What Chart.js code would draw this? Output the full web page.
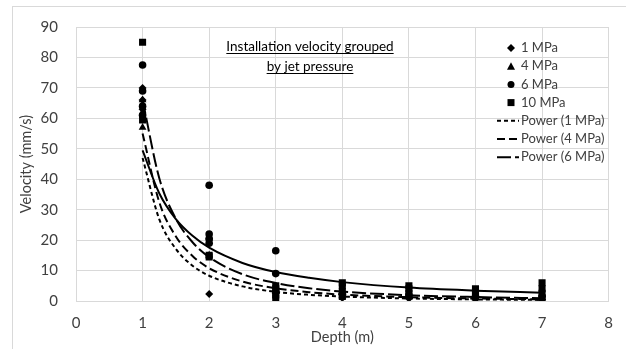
<!DOCTYPE html>
<html>
<head>
<meta charset="utf-8">
<script src="https://cdn.jsdelivr.net/npm/chart.js@4/dist/chart.umd.min.js"></script>
<style>
    html, body { margin: 0; padding: 0; background: #fff; }
    #wrap { width: 626px; height: 349px; }
</style>
</head>
<body>
<div id="wrap"><canvas id="velChart" width="626" height="349"></canvas></div>
<script>
// measured points, depth (m) / velocity (mm/s)
const depth1MPa = [1, 1, 1, 2, 2, 3, 4, 5, 6, 7];
const vel1MPa   = [70, 66, 63, 2.3, 20, 2.5, 1, 0.8, 0.5, 0.5];

const depth4MPa = [1, 1, 1, 2, 2, 3, 3, 4, 5, 6, 7];
const vel4MPa   = [57, 62, 66, 21, 15, 3, 4, 2, 1.5, 1, 1];

const depth6MPa = [1, 1, 1, 1, 2, 2, 2, 2, 3, 3, 3, 4, 5, 6, 7];
const vel6MPa   = [77.5, 69, 64, 61, 38, 22, 20.5, 19, 16.5, 9, 3, 2.5, 2, 1.5, 1.5];

const depth10MPa = [1, 1, 2, 2, 3, 3, 3, 3, 4, 4, 4, 4, 5, 5, 5, 6, 6, 6, 7, 7, 7, 7];
const vel10MPa   = [85, 59.5, 15, 14.5, 5, 4, 2, 1, 6, 5, 3, 1.5, 5, 4, 2.5, 4, 3, 2, 6, 4, 2.5, 1];

// power trendlines
const trendDepth = [1, 1.25, 1.5, 1.75, 2, 2.5, 3, 3.5, 4, 5, 6, 7];
const trend1MPa  = [47, 26.9, 17.1, 11.6, 8.3, 4.8, 3.0, 2.05, 1.47, 0.84, 0.53, 0.36];
const trend4MPa  = [55, 32.5, 21.2, 14.8, 10.8, 6.4, 4.2, 2.9, 2.1, 1.25, 0.82, 0.57];
const trend6MPa  = [66, 40.4, 27.0, 19.3, 14.4, 8.8, 5.9, 4.2, 3.1, 1.9, 1.3, 0.91];
const trend10MPa = [49.5, 35.4, 26.9, 21.4, 17.5, 12.5, 9.5, 7.6, 6.2, 4.4, 3.4, 2.7];

const xTicks = [0, 1, 2, 3, 4, 5, 6, 7, 8];
const yTicks = [0, 10, 20, 30, 40, 50, 60, 70, 80, 90];

const FONT = 'Lato, "Open Sans", sans-serif';
const TEXT = '#404040';
const GRID = '#d9d9d9';

function pts(xs, ys) {
    return xs.map((x, i) => ({ x: x, y: ys[i] }));
}

function markerSet(label, xs, ys, style, radius) {
    return {
        label: label,
        data: pts(xs, ys),
        pointStyle: style,
        pointRadius: radius,
        pointHoverRadius: radius,
        backgroundColor: '#000',
        borderColor: '#000',
        borderWidth: 0,
        showLine: false,
        order: 1
    };
}

function trendSet(label, ys, dash, inLegend) {
    return {
        label: label,
        data: pts(trendDepth, ys),
        showLine: true,
        pointRadius: 0,
        borderColor: '#000',
        borderWidth: 2,
        borderDash: dash,
        cubicInterpolationMode: 'monotone',
        fill: false,
        hideInLegend: !inLegend,
        order: 0
    };
}

// text box, custom legend, axis titles, chart border
const decorPlugin = {
    id: 'decor',
    beforeDraw(chart) {
        const ctx = chart.ctx;
        ctx.save();
        ctx.fillStyle = '#fff';
        ctx.fillRect(0, 0, chart.width, chart.height);
        ctx.restore();
    },
    afterDraw(chart) {
        const ctx = chart.ctx;
        const area = chart.chartArea;
        ctx.save();

        ctx.strokeStyle = GRID;
        ctx.lineWidth = 1;
        ctx.strokeRect(12.5, 6.5, 700, 400);

        // axis titles
        ctx.fillStyle = TEXT;
        ctx.font = '14.5px ' + FONT;
        ctx.textAlign = 'center';
        ctx.textBaseline = 'middle';
        ctx.fillText('Depth (m)', (area.left + area.right) / 2, 337);
        ctx.save();
        ctx.translate(26, (area.top + area.bottom) / 2);
        ctx.rotate(-Math.PI / 2);
        ctx.fillText('Velocity (mm/s)', 0, 0);
        ctx.restore();

        // underlined text box
        ctx.font = '13.5px ' + FONT;
        ctx.textBaseline = 'alphabetic';
        ctx.strokeStyle = '#000';
        ctx.fillStyle = '#000';
        const lines = ['Installation velocity grouped', 'by jet pressure'];
        lines.forEach((t, i) => {
            const cy = 51 + i * 20;
            const w = ctx.measureText(t).width;
            ctx.fillText(t, 310, cy);
            ctx.beginPath();
            ctx.moveTo(310 - w / 2, cy + 2.5);
            ctx.lineTo(310 + w / 2, cy + 2.5);
            ctx.stroke();
        });

        // legend
        ctx.font = '13px ' + FONT;
        ctx.textAlign = 'left';
        ctx.textBaseline = 'middle';
        let ly = 48;
        chart.data.datasets.forEach(ds => {
            if (ds.hideInLegend) return;
            ctx.fillStyle = '#000';
            ctx.strokeStyle = '#000';
            if (ds.showLine) {
                ctx.setLineDash(ds.borderDash || []);
                ctx.lineWidth = 2;
                ctx.beginPath();
                ctx.moveTo(497, ly);
                ctx.lineTo(519, ly);
                ctx.stroke();
                ctx.setLineDash([]);
            } else {
                drawMarker(ctx, ds.pointStyle, 511, ly);
            }
            ctx.fillStyle = TEXT;
            ctx.fillText(ds.label, 521, ly);
            ly += 18.2;
        });

        ctx.restore();
    }
};

function drawMarker(ctx, style, x, y) {
    ctx.beginPath();
    if (style === 'rectRot') {
        ctx.moveTo(x, y - 4); ctx.lineTo(x + 4, y); ctx.lineTo(x, y + 4); ctx.lineTo(x - 4, y);
    } else if (style === 'triangle') {
        ctx.moveTo(x, y - 4); ctx.lineTo(x + 4, y + 3.5); ctx.lineTo(x - 4, y + 3.5);
    } else if (style === 'circle') {
        ctx.arc(x, y, 3.5, 0, Math.PI * 2);
    } else {
        ctx.rect(x - 3.5, y - 3.5, 7, 7);
    }
    ctx.closePath();
    ctx.fill();
}

const ctx = document.getElementById('velChart').getContext('2d');

new Chart(ctx, {
    type: 'scatter',
    data: {
        datasets: [
            markerSet('1 MPa', depth1MPa, vel1MPa, 'rectRot', 4),
            markerSet('4 MPa', depth4MPa, vel4MPa, 'triangle', 4.5),
            markerSet('6 MPa', depth6MPa, vel6MPa, 'circle', 3.8),
            markerSet('10 MPa', depth10MPa, vel10MPa, 'rect', 5),
            trendSet('Power (1 MPa)', trend1MPa, [4, 3], true),
            trendSet('Power (4 MPa)', trend4MPa, [8, 4], true),
            trendSet('Power (6 MPa)', trend6MPa, [14, 4], true),
            trendSet('Power (10 MPa)', trend10MPa, [], false)
        ]
    },
    options: {
        responsive: false,
        animation: false,
        devicePixelRatio: 1,
        layout: {
            padding: { left: 13, right: 9, top: 19, bottom: 0 }
        },
        plugins: {
            legend: { display: false },
            tooltip: { enabled: false }
        },
        scales: {
            x: {
                type: 'linear',
                min: xTicks[0],
                max: xTicks[xTicks.length - 1],
                afterBuildTicks: scale => { scale.ticks = xTicks.map(v => ({ value: v })); },
                afterFit: scale => { scale.height = 48; },
                ticks: {
                    color: TEXT,
                    font: { family: FONT, size: 15 },
                    padding: 13,
                    maxRotation: 0
                },
                grid: { color: GRID, drawTicks: false },
                border: { color: GRID }
            },
            y: {
                min: yTicks[0],
                max: yTicks[yTicks.length - 1],
                afterBuildTicks: scale => { scale.ticks = yTicks.map(v => ({ value: v })); },
                afterFit: scale => { scale.width = 63; },
                ticks: {
                    color: TEXT,
                    font: { family: FONT, size: 15 },
                    padding: 18
                },
                grid: { color: GRID, drawTicks: false },
                border: { color: GRID }
            }
        }
    },
    plugins: [decorPlugin]
});
</script>
</body>
</html>
